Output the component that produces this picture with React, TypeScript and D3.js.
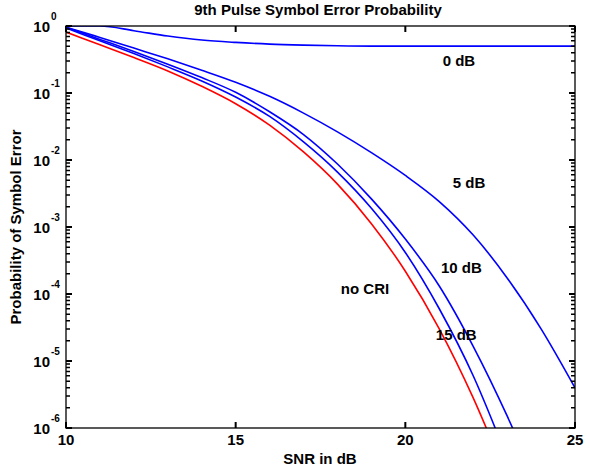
import React from "react";
import * as d3 from "d3";

// SNR grid (dB)
const snr = [10, 11, 12, 13, 14, 15, 16, 17, 18, 19, 20, 21, 22, 23, 24, 25];

// log10 of symbol error probability for each curve
const noCri = [-0.09, -0.28, -0.47, -0.67, -0.9, -1.16, -1.48, -1.88, -2.36, -2.95, -3.66, -4.52, -5.55, -6.75, -8.0, -9.3];
const cri15 = [-0.03, -0.22, -0.41, -0.61, -0.82, -1.06, -1.35, -1.73, -2.18, -2.72, -3.38, -4.22, -5.22, -6.45, -7.8, -9.2];
const cri10 = [-0.02, -0.2, -0.38, -0.57, -0.77, -0.99, -1.28, -1.62, -2.06, -2.58, -3.18, -3.88, -4.78, -5.82, -7.0, -8.3];
const cri5 = [-0.02, -0.17, -0.33, -0.49, -0.66, -0.84, -1.05, -1.3, -1.58, -1.89, -2.23, -2.62, -3.12, -3.76, -4.52, -5.4];
const cri0 = [0, 0, -0.07, -0.15, -0.21, -0.245, -0.27, -0.285, -0.295, -0.3, -0.3, -0.3, -0.3, -0.3, -0.3, -0.3];

const xTicks = [10, 15, 20, 25];
const yDecades = [0, -1, -2, -3, -4, -5, -6];

const series = [
  { name: "0 dB", values: cri0, color: "#0000ff" },
  { name: "5 dB", values: cri5, color: "#0000ff" },
  { name: "10 dB", values: cri10, color: "#0000ff" },
  { name: "15 dB", values: cri15, color: "#0000ff" },
  { name: "no CRI", values: noCri, color: "#ff0000" },
];

// annotation anchors: SNR (dB) and log10 probability of the text baseline
const labelText = ["0 dB", "5 dB", "10 dB", "no CRI", "15 dB"];
const labelSnr = [21.1, 21.4, 21.05, 18.1, 20.9];
const labelLogP = [-0.6, -2.42, -3.69, -4.0, -4.69];

const W = 590;
const H = 467;
const left = 66;
const right = 575;
const top = 26;
const bottom = 428;
const font = "Arial, 'Liberation Sans', Helvetica, sans-serif";

export default function App() {
  const x = d3.scaleLinear().domain([10, 25]).range([left, right]);
  const y = d3.scaleLog().domain([1e-6, 1]).range([bottom, top]);

  const line = d3
    .line<[number, number]>()
    .x((d) => x(d[0]))
    .y((d) => y(Math.pow(10, d[1])))
    .curve(d3.curveMonotoneX);

  const minor: number[] = [];
  for (let e = -6; e < 0; e++) {
    for (let m = 2; m <= 9; m++) minor.push(m * Math.pow(10, e));
  }

  // tick marks, drawn inward on all four sides
  const majorPath = d3.path();
  xTicks.forEach((t) => {
    const xx = x(t);
    majorPath.moveTo(xx, bottom);
    majorPath.lineTo(xx, bottom - 6);
    majorPath.moveTo(xx, top);
    majorPath.lineTo(xx, top + 6);
  });
  yDecades.forEach((e) => {
    const yy = y(Math.pow(10, e));
    majorPath.moveTo(left, yy);
    majorPath.lineTo(left + 6, yy);
    majorPath.moveTo(right, yy);
    majorPath.lineTo(right - 6, yy);
  });
  const minorPath = d3.path();
  minor.forEach((v) => {
    const yy = y(v);
    minorPath.moveTo(left, yy);
    minorPath.lineTo(left + 4, yy);
    minorPath.moveTo(right, yy);
    minorPath.lineTo(right - 4, yy);
  });

  return (
    <svg
      width={W}
      height={H}
      style={{ position: "absolute", left: 0, top: 0, background: "#fff" }}
      fontFamily={font}
      fontWeight="bold"
    >
      <defs>
        <clipPath id="plotClip">
          <rect x={left} y={top} width={right - left} height={bottom - top} />
        </clipPath>
      </defs>
      <rect x={0} y={0} width={W} height={H} fill="#fff" />

      <g clipPath="url(#plotClip)">
        {series.map((s) => (
          <path
            key={s.name}
            d={line(snr.map((v, i) => [v, s.values[i]] as [number, number])) || ""}
            fill="none"
            stroke={s.color}
            strokeWidth={1.6}
          />
        ))}
      </g>

      {/* axes box */}
      <rect
        x={left}
        y={top}
        width={right - left}
        height={bottom - top}
        fill="none"
        stroke="#000"
        strokeWidth={1.3}
      />
      <path d={majorPath.toString()} fill="none" stroke="#000" strokeWidth={2} />
      <path d={minorPath.toString()} fill="none" stroke="#000" strokeWidth={1.5} />

      {xTicks.map((t) => (
        <text key={t} x={x(t)} y={445} fontSize={15} textAnchor="middle">
          {t}
        </text>
      ))}

      {yDecades.map((e) => {
        const yy = y(Math.pow(10, e));
        return (
          <g key={e}>
            <text x={50} y={yy + 5.5} fontSize={15} textAnchor="end">
              10
            </text>
            <text x={51} y={yy - 6} fontSize={10}>
              {e}
            </text>
          </g>
        );
      })}

      {/* curve annotations */}
      {labelText.map((t, i) => (
        <text key={t} x={x(labelSnr[i])} y={y(Math.pow(10, labelLogP[i]))} fontSize={15}>
          {t}
        </text>
      ))}

      <text x={318} y={15} fontSize={15} textAnchor="middle">
        9th Pulse Symbol Error Probability
      </text>
      <text x={320} y={464} fontSize={15} textAnchor="middle">
        SNR in dB
      </text>
      <text
        transform={`translate(21, ${(top + bottom) / 2}) rotate(-90)`}
        fontSize={15}
        textAnchor="middle"
      >
        Probability of Symbol Error
      </text>
    </svg>
  );
}
